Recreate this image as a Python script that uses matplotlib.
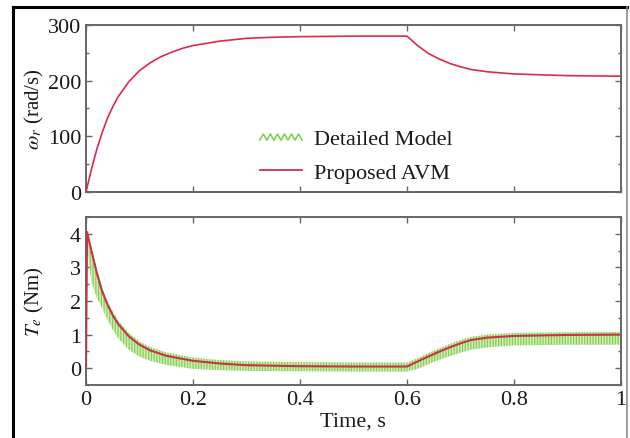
'''
plot.py

Speed and torque: detailed model vs proposed AVM.
'''

import matplotlib as mpl
mpl.use('Agg')
import matplotlib.pyplot as plt
from matplotlib.legend_handler import HandlerBase
from matplotlib.lines import Line2D
from matplotlib.ticker import MultipleLocator, FormatStrFormatter
import numpy as np

mpl.rcParams['font.size']        = 16.0
mpl.rcParams['font.family']      = 'serif'
mpl.rcParams['font.serif']       = ['Liberation Serif', 'DejaVu Serif']
mpl.rcParams['mathtext.fontset'] = 'stix'
mpl.rcParams['hatch.linewidth']  = 0.9

# ---------------------------------------------------------------------------- #
# data

t_speed = [0.0, 0.01, 0.02, 0.03, 0.04, 0.05, 0.06, 0.08, 0.10, 0.12, 0.14,
           0.16, 0.18, 0.20, 0.25, 0.30, 0.35, 0.40, 0.50, 0.60, 0.62, 0.64,
           0.66, 0.68, 0.70, 0.72, 0.75, 0.80, 0.90, 1.00]
w_avm   = [0, 40, 76, 106, 132, 153, 171, 198, 218, 232, 243,
           251, 258, 263, 271, 276, 278, 279, 280, 280, 263, 249,
           239, 231, 225, 220, 216, 212, 209, 208]

t_torque = [0.0, 0.002, 0.01, 0.02, 0.03, 0.04, 0.05, 0.06, 0.08, 0.10, 0.12,
            0.15, 0.20, 0.25, 0.30, 0.40, 0.50, 0.60, 0.62, 0.64, 0.66, 0.68,
            0.70, 0.72, 0.75, 0.80, 0.90, 1.00]
Te_avm   = [0.0, 4.05, 3.50, 2.85, 2.30, 1.90, 1.58, 1.32, 0.95, 0.70, 0.53,
            0.37, 0.22, 0.14, 0.09, 0.06, 0.05, 0.05, 0.20, 0.35, 0.49, 0.62,
            0.74, 0.84, 0.91, 0.96, 0.99, 1.00]
# envelope of the switching ripple in the detailed model
Te_det_hi = [0.0, 4.10, 3.60, 2.95, 2.40, 2.00, 1.68, 1.42, 1.05, 0.80, 0.63,
             0.47, 0.32, 0.24, 0.20, 0.18, 0.17, 0.17, 0.30, 0.45, 0.59, 0.72,
             0.84, 0.93, 1.00, 1.05, 1.07, 1.08]
Te_det_lo = [0.0, 3.60, 2.60, 2.10, 1.80, 1.45, 1.15, 0.90, 0.55, 0.35, 0.22,
             0.10, -0.02, -0.06, -0.08, -0.09, -0.10, -0.10, -0.02, 0.12, 0.25, 0.36,
             0.46, 0.55, 0.62, 0.68, 0.70, 0.70]

# ---------------------------------------------------------------------------- #

red   = '#dc2a4e'
green = '#7acb48'
light = '#cdeeb5'
spine = '0.4'
txt   = '#1a1a1a'


class HandlerWave(HandlerBase):
    def create_artists(self, legend, orig_handle, xdescent, ydescent,
                       width, height, fontsize, trans):
        xs = np.linspace(-xdescent, width - xdescent, 13)
        ys = np.where(np.arange(13) % 2 == 0, 0.25, 0.65) * height - ydescent
        line = Line2D(xs, ys, color=orig_handle.get_color(), linewidth=1.1)
        line.set_transform(trans)
        return [line]


fig = plt.figure(figsize=(6.3, 4.39), dpi=100)
ax1 = fig.add_axes([0.1365, 0.5604, 0.849, 0.3804])
ax2 = fig.add_axes([0.1365, 0.1207, 0.849, 0.3827])

for ax in (ax1, ax2):
    ax.set_xlim(0, 1)
    ax.xaxis.set_major_locator(MultipleLocator(0.2))
    ax.xaxis.set_major_formatter(FormatStrFormatter('%g'))
    ax.tick_params(which='both', direction='in', top=True, right=True,
                   colors=spine, labelcolor=txt, width=1.0)
    ax.tick_params(which='major', length=4)
    ax.tick_params(which='minor', length=2.5)
    for s in ax.spines.values():
        s.set_color(spine)
        s.set_linewidth(1.4)
    ax.yaxis.set_label_coords(-0.075, 0.5)

# speed
ax1.plot(t_speed, w_avm, color=red, linewidth=1.2, zorder=3)
ax1.set_ylim(0, 300)
ax1.yaxis.set_major_locator(MultipleLocator(100))
ax1.yaxis.set_minor_locator(MultipleLocator(50))
ax1.tick_params(labelbottom=False)
ax1.set_ylabel(r'$\omega_r$ (rad/s)', fontsize=15, color=txt)

h_det = Line2D([], [], color=green)
h_avm = Line2D([], [], color=red, linewidth=1.3)
ax1.legend([h_det, h_avm], ['Detailed Model', 'Proposed AVM'],
           handler_map={h_det: HandlerWave()},
           loc='upper left', bbox_to_anchor=(0.325, 0.38), frameon=False,
           borderpad=0, borderaxespad=0, handlelength=1.9,
           handletextpad=0.55, labelspacing=0.6, fontsize=16,
           labelcolor=txt)

# torque
ax2.fill_between(t_torque, Te_det_lo, Te_det_hi, facecolor=light,
                 edgecolor=green, hatch='||||||', linewidth=0, alpha=0.9,
                 zorder=2)
ax2.plot(t_torque, Te_avm, color=red, linewidth=1.5, zorder=3)
ax2.plot(t_torque, Te_avm, color='#8a5a20', linewidth=0.6, alpha=0.5, zorder=4)
ax2.set_ylim(-0.5, 4.5)
ax2.yaxis.set_major_locator(MultipleLocator(1))
ax2.yaxis.set_minor_locator(MultipleLocator(0.5))
ax2.set_ylabel(r'$T_e$ (Nm)', fontsize=15, color=txt)
ax2.set_xlabel('Time, s', color=txt, labelpad=2)

# frame around the picture
fig.add_artist(Line2D([13/630, 13/630], [0, 1 - 8/439], color='k',
                      linewidth=2.2, transform=fig.transFigure))
fig.add_artist(Line2D([13/630, 627/630], [1 - 8/439, 1 - 8/439], color='k',
                      linewidth=2.2, transform=fig.transFigure))
fig.add_artist(Line2D([627/630, 627/630], [0, 1 - 8/439], color='0.55',
                      linewidth=1.2, transform=fig.transFigure))

plt.savefig('out.png', dpi=100)
